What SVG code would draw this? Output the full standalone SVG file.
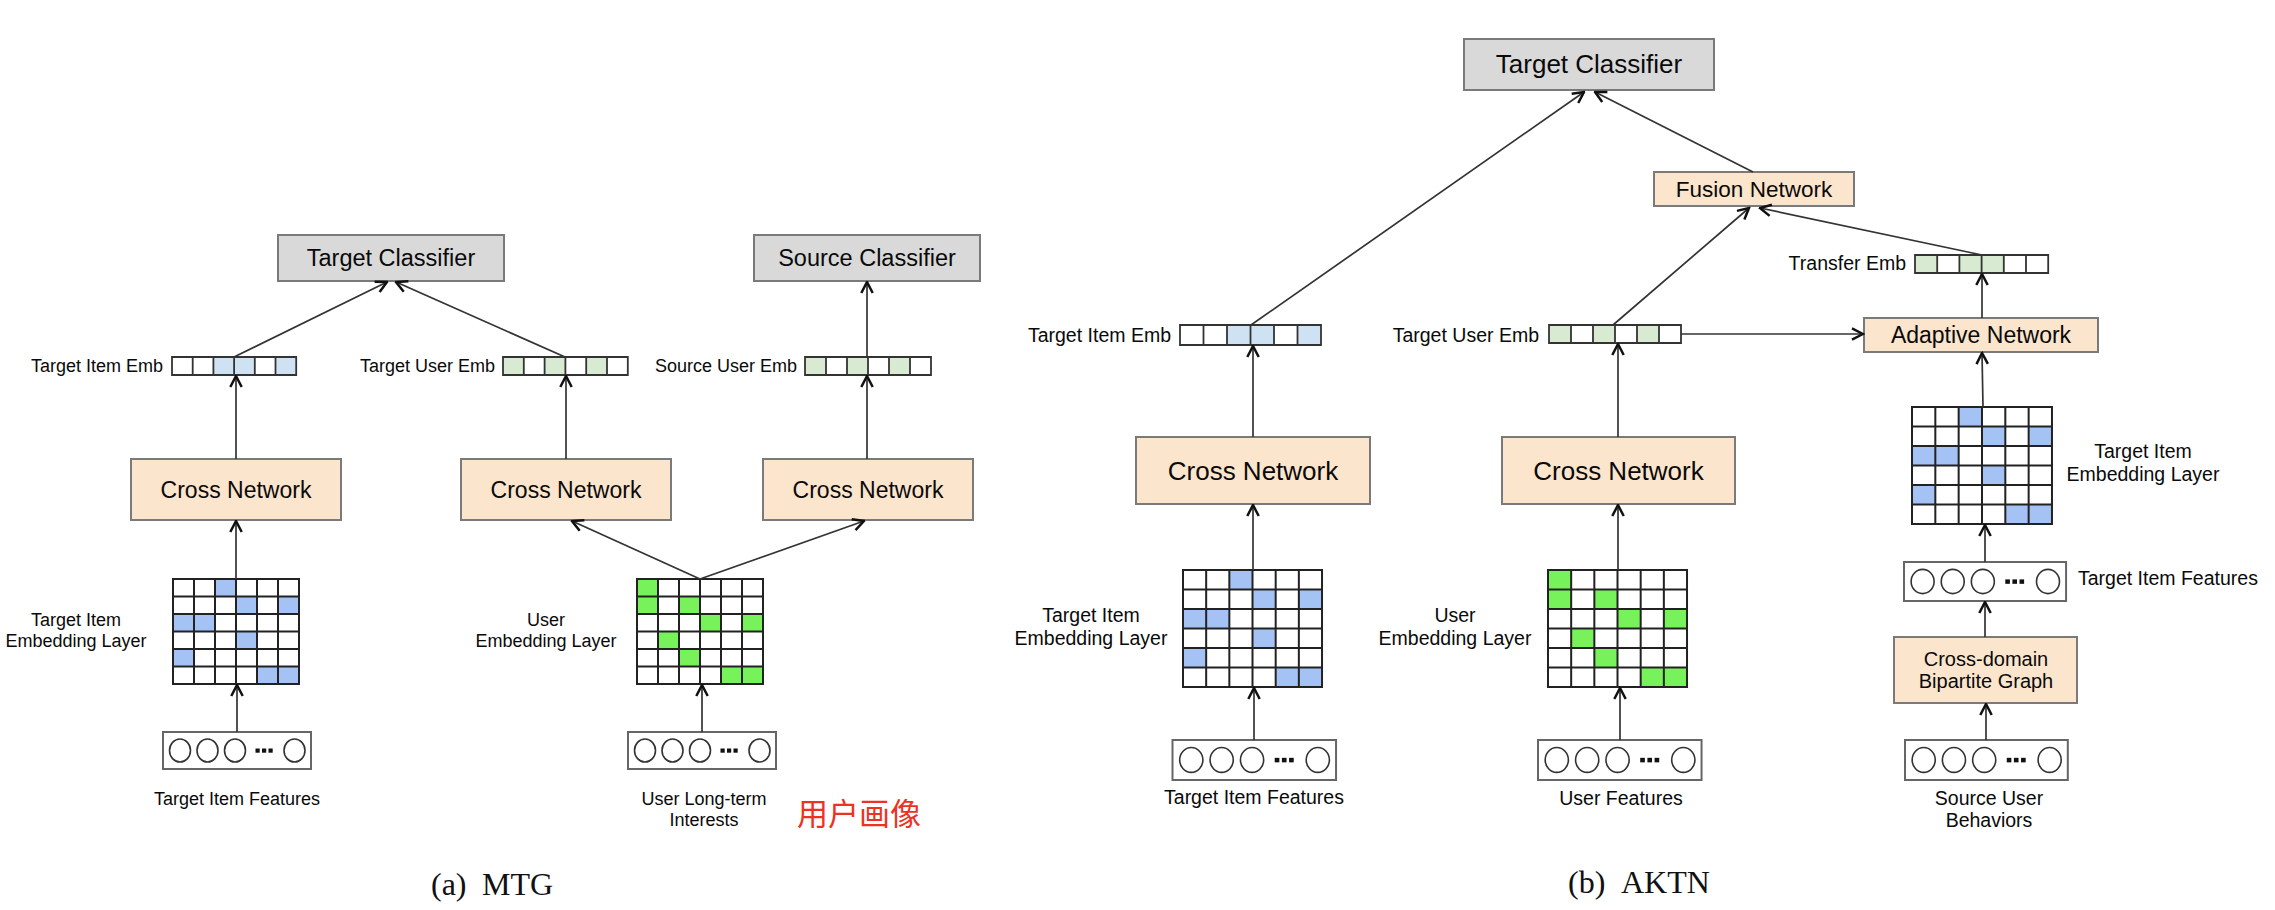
<svg xmlns="http://www.w3.org/2000/svg" width="2275" height="910" viewBox="0 0 2275 910">
<style>
.box{fill:#fce5cd;stroke:#7a7a7a;stroke-width:2}
.cls{fill:#d9d9d9;stroke:#7a7a7a;stroke-width:2}
.t{font-family:"Liberation Sans",Arial,sans-serif;fill:#0a0a0a}
.m{text-anchor:middle}
.e{text-anchor:end}
.s18{font-size:18px}
.s195{font-size:19.5px}
.s23{font-size:23px}
.s26{font-size:26px}
.cap{font-family:"Liberation Serif","Times New Roman",serif;font-size:32px;fill:#111}
.gl{fill:none;stroke:#222;stroke-width:2;vector-effect:non-scaling-stroke}
.vl{fill:none;stroke:#333;stroke-width:1.8;vector-effect:non-scaling-stroke}
.inb{fill:#fff;stroke:#666;stroke-width:2;vector-effect:non-scaling-stroke}
.circ{fill:#fff;stroke:#333;stroke-width:1.6;vector-effect:non-scaling-stroke}
.conn line{stroke:#333;stroke-width:1.7;fill:none;marker-end:url(#ah)}
</style>
<defs>
<marker id="ah" viewBox="0 0 14 14" refX="12.5" refY="7" markerWidth="14" markerHeight="14" markerUnits="userSpaceOnUse" orient="auto">
<path d="M1.5,1.3 L12.5,7 L1.5,12.7" fill="none" stroke="#111" stroke-width="2.5"/>
</marker>
<path id="gridLines" class="gl" d="M0,0H6V6H0Z M1,0V6 M2,0V6 M3,0V6 M4,0V6 M5,0V6 M0,1H6 M0,2H6 M0,3H6 M0,4H6 M0,5H6"/>
<path id="blueCells" fill="#a4c2f4" d="M2,0h1v1h-1z M3,1h1v1h-1z M5,1h1v1h-1z M0,2h2v1h-2z M3,3h1v1h-1z M0,4h1v1h-1z M4,5h2v1h-2z"/>
<path id="greenCells" fill="#77f25b" d="M0,0h1v2h-1z M2,1h1v1h-1z M3,2h1v1h-1z M5,2h1v1h-1z M1,3h1v1h-1z M2,4h1v1h-1z M4,5h2v1h-2z"/>
<path id="vecLines" class="vl" d="M0,0H6V1H0Z M1,0V1 M2,0V1 M3,0V1 M4,0V1 M5,0V1"/>
<path id="vecBlue" fill="#cfe2f3" d="M2,0h2v1h-2z M5,0h1v1h-1z"/>
<path id="vecGreen" fill="#d9ead3" d="M0,0h1v1h-1z M2,0h1v1h-1z M4,0h1v1h-1z"/>
<path id="vecTransfer" fill="#d9ead3" d="M0,0h1v1h-1z M2,0h2v1h-2z"/>
<g id="inbox">
<rect class="inb" x="0" y="0" width="148" height="37"/>
<ellipse class="circ" cx="17" cy="18.5" rx="10.5" ry="11.5"/>
<ellipse class="circ" cx="44.5" cy="18.5" rx="10.5" ry="11.5"/>
<ellipse class="circ" cx="72" cy="18.5" rx="10.5" ry="11.5"/>
<rect x="92.5" y="16.5" width="4.2" height="4.2" fill="#111"/>
<rect x="99" y="16.5" width="4.2" height="4.2" fill="#111"/>
<rect x="105.5" y="16.5" width="4.2" height="4.2" fill="#111"/>
<ellipse class="circ" cx="131.5" cy="18.5" rx="10.5" ry="11.5"/>
</g>
</defs>
<rect width="2275" height="910" fill="#fff"/>

<!-- ===== MTG ===== -->
<g id="mtg-target-classifier"><rect class="cls" x="278" y="235" width="226" height="46"/><text class="t m" x="391" y="266" font-size="23.5">Target Classifier</text></g>
<g id="mtg-source-classifier"><rect class="cls" x="754" y="235" width="226" height="46"/><text class="t m" x="867" y="266" font-size="23.5">Source Classifier</text></g>

<g id="mtg-target-item-emb"><text class="t e s18" x="163" y="372">Target Item Emb</text>
<g transform="translate(172,357) scale(20.7,18)"><rect width="6" height="1" fill="#fff"/><use href="#vecBlue"/><use href="#vecLines"/></g></g>
<g id="mtg-target-user-emb"><text class="t e s18" x="495" y="372">Target User Emb</text>
<g transform="translate(503,357) scale(20.8,18)"><rect width="6" height="1" fill="#fff"/><use href="#vecGreen"/><use href="#vecLines"/></g></g>
<g id="mtg-source-user-emb"><text class="t e s18" x="797" y="372">Source User Emb</text>
<g transform="translate(805,357) scale(21,18)"><rect width="6" height="1" fill="#fff"/><use href="#vecGreen"/><use href="#vecLines"/></g></g>

<g id="mtg-cross-1"><rect class="box" x="131" y="459" width="210" height="61"/><text class="t m s23" x="236" y="498">Cross Network</text></g>
<g id="mtg-cross-2"><rect class="box" x="461" y="459" width="210" height="61"/><text class="t m s23" x="566" y="498">Cross Network</text></g>
<g id="mtg-cross-3"><rect class="box" x="763" y="459" width="210" height="61"/><text class="t m s23" x="868" y="498">Cross Network</text></g>

<g id="mtg-item-emb-layer"><text class="t m s18" x="76" y="626">Target Item</text><text class="t m s18" x="76" y="647">Embedding Layer</text>
<g transform="translate(173,579) scale(21,17.5)"><rect width="6" height="6" fill="#fff"/><use href="#blueCells"/><use href="#gridLines"/></g></g>
<g id="mtg-user-emb-layer"><text class="t m s18" x="546" y="626">User</text><text class="t m s18" x="546" y="647">Embedding Layer</text>
<g transform="translate(637,579) scale(21,17.5)"><rect width="6" height="6" fill="#fff"/><use href="#greenCells"/><use href="#gridLines"/></g></g>

<g id="mtg-item-features"><use href="#inbox" transform="translate(163,732)"/><text class="t m s18" x="237" y="805">Target Item Features</text></g>
<g id="mtg-user-interests"><use href="#inbox" transform="translate(628,732)"/><text class="t m s18" x="704" y="805">User Long-term</text><text class="t m s18" x="704" y="826">Interests</text></g>
<text x="797" y="825" font-family="'Noto Sans CJK SC',sans-serif" font-size="31" fill="#ec3323">用户画像</text>

<!-- ===== AKTN ===== -->
<g id="aktn-target-classifier"><rect class="cls" x="1464" y="39" width="250" height="51"/><text class="t m s26" x="1589" y="73">Target Classifier</text></g>
<g id="aktn-fusion"><rect class="box" x="1654" y="172" width="200" height="34"/><text class="t m" x="1754" y="197" font-size="22.5">Fusion Network</text></g>
<g id="aktn-transfer-emb"><text class="t e s195" x="1906" y="270">Transfer Emb</text>
<g transform="translate(1915,255) scale(22.2,18)"><rect width="6" height="1" fill="#fff"/><use href="#vecTransfer"/><use href="#vecLines"/></g></g>
<g id="aktn-target-item-emb"><text class="t e s195" x="1171" y="342">Target Item Emb</text>
<g transform="translate(1180,325) scale(23.5,20)"><rect width="6" height="1" fill="#fff"/><use href="#vecBlue"/><use href="#vecLines"/></g></g>
<g id="aktn-target-user-emb"><text class="t e s195" x="1539" y="342">Target User Emb</text>
<g transform="translate(1549,325) scale(22,18)"><rect width="6" height="1" fill="#fff"/><use href="#vecGreen"/><use href="#vecLines"/></g></g>
<g id="aktn-adaptive"><rect class="box" x="1864" y="318" width="234" height="34"/><text class="t m s23" x="1981" y="343">Adaptive Network</text></g>

<g id="aktn-cross-1"><rect class="box" x="1136" y="437" width="234" height="67"/><text class="t m s26" x="1253" y="480">Cross Network</text></g>
<g id="aktn-cross-2"><rect class="box" x="1502" y="437" width="233" height="67"/><text class="t m s26" x="1618.5" y="480">Cross Network</text></g>

<g id="aktn-item-emb-layer"><text class="t m s195" x="1091" y="622">Target Item</text><text class="t m s195" x="1091" y="645">Embedding Layer</text>
<g transform="translate(1183,570) scale(23.17,19.5)"><rect width="6" height="6" fill="#fff"/><use href="#blueCells"/><use href="#gridLines"/></g></g>
<g id="aktn-user-emb-layer"><text class="t m s195" x="1455" y="622">User</text><text class="t m s195" x="1455" y="645">Embedding Layer</text>
<g transform="translate(1548,570) scale(23.17,19.5)"><rect width="6" height="6" fill="#fff"/><use href="#greenCells"/><use href="#gridLines"/></g></g>
<g id="aktn-item-emb-layer-2"><text class="t m s195" x="2143" y="458">Target Item</text><text class="t m s195" x="2143" y="481">Embedding Layer</text>
<g transform="translate(1912,407) scale(23.33,19.5)"><rect width="6" height="6" fill="#fff"/><use href="#blueCells"/><use href="#gridLines"/></g></g>

<g id="aktn-item-features-2"><use href="#inbox" transform="translate(1904,562) scale(1.095,1.054)"/><text class="t s195" x="2078" y="585">Target Item Features</text></g>
<g id="aktn-bipartite"><rect class="box" x="1894" y="637" width="183" height="66"/><text class="t m" x="1986" y="666" font-size="20">Cross-domain</text><text class="t m" x="1986" y="688" font-size="20">Bipartite Graph</text></g>

<g id="aktn-item-features"><use href="#inbox" transform="translate(1172.5,740) scale(1.105,1.08)"/><text class="t m s195" x="1254" y="804">Target Item Features</text></g>
<g id="aktn-user-features"><use href="#inbox" transform="translate(1538,740) scale(1.105,1.08)"/><text class="t m s195" x="1621" y="805">User Features</text></g>
<g id="aktn-source-behaviors"><use href="#inbox" transform="translate(1905,740) scale(1.1,1.08)"/><text class="t m s195" x="1989" y="805">Source User</text><text class="t m s195" x="1989" y="827">Behaviors</text></g>

<!-- captions -->
<text class="cap" x="431" y="895">(a)<tspan x="482">MTG</tspan></text>
<text class="cap" x="1568" y="893">(b)<tspan x="1621">AKTN</tspan></text>

<!-- ===== connectors ===== -->
<g id="connectors" class="conn">
<line x1="234" y1="357" x2="387" y2="282"/>
<line x1="565" y1="357" x2="396" y2="282"/>
<line x1="867" y1="357" x2="867" y2="282"/>
<line x1="236" y1="459" x2="236" y2="376"/>
<line x1="566" y1="459" x2="566" y2="376"/>
<line x1="867" y1="459" x2="867" y2="376"/>
<line x1="236" y1="579" x2="236" y2="521"/>
<line x1="700" y1="579" x2="572" y2="521"/>
<line x1="700" y1="579" x2="864" y2="521"/>
<line x1="237" y1="732" x2="237" y2="685"/>
<line x1="702" y1="732" x2="702" y2="685"/>

<line x1="1251" y1="325" x2="1584" y2="92"/>
<line x1="1753" y1="172" x2="1595" y2="92"/>
<line x1="1613" y1="325" x2="1749" y2="208"/>
<line x1="1982" y1="255" x2="1760" y2="208"/>
<line x1="1681" y1="334" x2="1863" y2="334"/>
<line x1="1982" y1="318" x2="1982" y2="274"/>
<line x1="1983" y1="407" x2="1982" y2="353"/>
<line x1="1985" y1="562" x2="1985" y2="525"/>
<line x1="1985" y1="637" x2="1985" y2="602"/>
<line x1="1986" y1="740" x2="1986" y2="704"/>
<line x1="1253" y1="437" x2="1253" y2="346"/>
<line x1="1253" y1="570" x2="1253" y2="505"/>
<line x1="1254" y1="740" x2="1254" y2="688"/>
<line x1="1618" y1="437" x2="1618" y2="344"/>
<line x1="1618" y1="570" x2="1618" y2="505"/>
<line x1="1620" y1="740" x2="1620" y2="688"/>
</g>
</svg>
